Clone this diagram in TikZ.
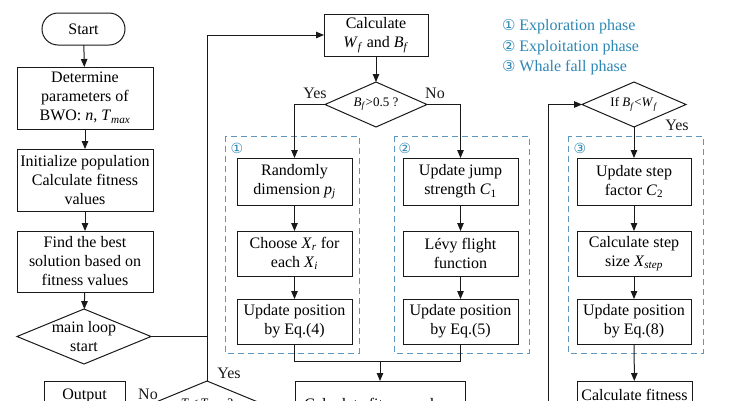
\documentclass[tikz,border=0pt]{standalone}
\usepackage{fontspec}
\setmainfont{Liberation Serif}
\newfontfamily\symf{DejaVu Sans}
\usetikzlibrary{arrows.meta,shapes.geometric}
\definecolor{lineC}{RGB}{25,25,25}
\definecolor{dashC}{RGB}{95,150,190}
\definecolor{legC}{RGB}{45,135,180}
\newcommand{\mainf}{\fontsize{16}{19}\selectfont}
\newcommand{\smallf}{\fontsize{13}{15}\selectfont}
\newcommand{\vs}[2]{\textit{#1}\textsubscript{#2}}
\begin{document}
\begin{tikzpicture}[x=1pt,y=-1pt,
  every node/.style={inner sep=0pt, outer sep=0pt},
  box/.style={draw=lineC, line width=1pt, rectangle, align=center, font=\mainf},
  dia/.style={draw=lineC, line width=1pt, diamond, inner sep=0pt},
  ln/.style={draw=lineC, line width=1pt},
  arr/.style={ln, -{Triangle[length=8pt,width=6.5pt]}},
  phase/.style={draw=dashC, line width=1pt, dash pattern=on 6pt off 4pt},
  num/.style={text=legC, font=\symf\fontsize{14}{16}\selectfont},
  lbl/.style={font=\mainf, text=lineC}
]
\useasboundingbox (0,0) rectangle (739,400);
\clip (0,0) rectangle (739,400);

% left column
\node[box, rounded corners=16pt, minimum width=83pt, minimum height=32pt] (start) at (83.5,29) {Start};
\node[box, minimum width=136pt, minimum height=62pt] (det) at (85,98) {Determine\\parameters of\\BWO: \textit{n}, \vs{T}{\textit{max}}};
\node[box, minimum width=136pt, minimum height=62pt] (init) at (85,180) {Initialize population\\Calculate fitness\\values};
\node[box, minimum width=136pt, minimum height=61pt] (find) at (85,261.5) {Find the best\\solution based on\\fitness values};
\node[dia, minimum width=134pt, minimum height=55pt,
  label={[font=\mainf, align=center]center:main loop\\start}] (mainloop) at (84,336.5) {};
\node[dia, minimum width=126pt, minimum height=52pt,
  label={[font=\smallf, yshift=3pt]center:\textit{T}\,≤\,\vs{T}{\textit{max}} ?}] (tcheck) at (207,407) {};
\node[box, minimum width=81pt, minimum height=48pt,
  label={[font=\mainf, yshift=9pt]center:Output}] (output) at (84.5,405) {};

% middle
\node[box, minimum width=104pt, minimum height=42pt] (calc) at (376,35) {Calculate\\\vs{W}{\textit{f}} and \vs{B}{\textit{f}}};
\node[dia, minimum width=102pt, minimum height=45pt,
  label={[font=\smallf]center:\vs{B}{\textit{f}}>0.5 ?}] (bf) at (376,104.5) {};

\draw[phase] (225,136) rectangle (359,353);
\draw[phase] (394,136) rectangle (529,353);
\draw[phase] (568,136) rectangle (703,353);
\node[num] (n1) at (237,148) {①};
\node[num] (n2) at (405,148) {②};
\node[num] (n3) at (580,148) {③};

\node[box, minimum width=115pt, minimum height=47pt] (rand) at (294.5,181.5) {Randomly\\dimension \vs{p}{\textit{j}}};
\node[box, minimum width=115pt, minimum height=45pt] (choose) at (294.5,253.5) {Choose \vs{X}{\textit{r}} for\\each \vs{X}{\textit{i}}};
\node[box, minimum width=115pt, minimum height=45pt] (upd4) at (294.5,321.5) {Update position\\by Eq.(4)};

\node[box, minimum width=115pt, minimum height=47pt] (jump) at (460.5,181.5) {Update jump\\strength \vs{\textit{C}}{1}};
\node[box, minimum width=115pt, minimum height=45pt] (levy) at (460.5,253.5) {Lévy flight\\function};
\node[box, minimum width=115pt, minimum height=45pt] (upd5) at (460.5,321.5) {Update position\\by Eq.(5)};

\node[box, minimum width=170pt, minimum height=46pt] (calcfit) at (380,404) {Calculate fitness values};

% right
\node[dia, minimum width=104pt, minimum height=45pt,
  label={[font=\smallf]center:If \vs{B}{\textit{f}}<\vs{W}{\textit{f}}}] (ifbw) at (634,104.5) {};
\node[box, minimum width=114pt, minimum height=47pt] (s1) at (634,181.5) {Update step\\factor \vs{\textit{C}}{2}};
\node[box, minimum width=114pt, minimum height=45pt] (s2) at (634,253.5) {Calculate step\\size \vs{X}{\textit{step}}};
\node[box, minimum width=114pt, minimum height=45pt] (s3) at (634,321.5) {Update position\\by Eq.(8)};
\node[box, minimum width=115pt, minimum height=58pt,
  label={[font=\mainf, yshift=15pt]center:Calculate fitness}] (calcfit2) at (634.5,410) {};

% legend
\node[anchor=west, text=legC, font=\mainf] (leg1) at (502,27) {{\symf\fontsize{15}{16}\selectfont ①} Exploration phase};
\node[anchor=west, text=legC, font=\mainf] (leg2) at (502,47.5) {{\symf\fontsize{15}{16}\selectfont ②} Exploitation phase};
\node[anchor=west, text=legC, font=\mainf] (leg3) at (502,68) {{\symf\fontsize{15}{16}\selectfont ③} Whale fall phase};

% labels
\node[lbl] (yes1) at (315,93) {Yes};
\node[lbl] (no1) at (435,93) {No};
\node[lbl] (yes2) at (677,125) {Yes};
\node[lbl] (yes3) at (229,373) {Yes};
\node[lbl] (no2) at (148,394) {No};

% connectors
\draw[arr] (start) -- (det);
\draw[arr] (det) -- (init);
\draw[arr] (init) -- (find);
\draw[arr] (find) -- (mainloop);
\draw[ln] (mainloop.east) -- (mainloop.east -| tcheck.north);
\draw[arr] (tcheck.north) |- (calc.west);
\draw[arr] (tcheck.west) -- (tcheck.west -| output.east);
\draw[arr] (calc) -- (bf);
\draw[arr] (bf.west) -| (rand.north);
\draw[arr] (bf.east) -| (jump.north);
\draw[arr] (rand) -- (choose);
\draw[arr] (choose) -- (upd4);
\draw[arr] (jump) -- (levy);
\draw[arr] (levy) -- (upd5);
\coordinate (merge) at (380,361);
\draw[ln] (upd4.south) |- (merge);
\draw[ln] (upd5.south) |- (merge);
\draw[arr] (merge) -- (calcfit.north);
\coordinate (rbot) at (548,440);
\draw[arr] (rbot) |- (ifbw.west);
\draw[arr] (ifbw) -- (s1);
\draw[arr] (s1) -- (s2);
\draw[arr] (s2) -- (s3);
\draw[arr] (s3) -- (calcfit2);
\end{tikzpicture}
\end{document}
